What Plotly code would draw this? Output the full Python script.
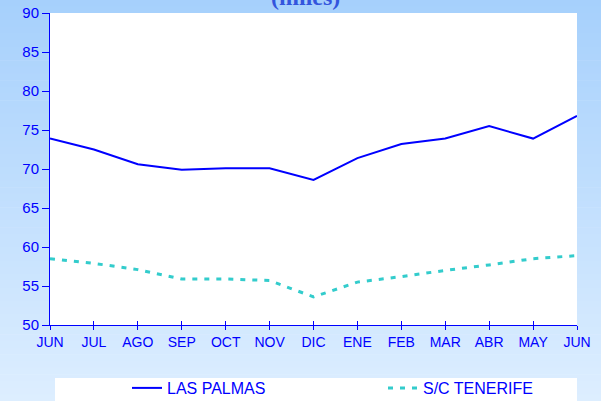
import plotly.graph_objects as go

months = ["JUN", "JUL", "AGO", "SEP", "OCT", "NOV", "DIC", "ENE", "FEB", "MAR", "ABR", "MAY", "JUN"]
las_palmas = [73.9, 72.5, 70.6, 69.9, 70.1, 70.1, 68.6, 71.4, 73.2, 73.9, 75.5, 73.9, 76.8]
tenerife = [58.5, 57.9, 57.1, 55.9, 55.9, 55.7, 53.6, 55.5, 56.2, 57.0, 57.7, 58.5, 58.9]
y_ticks = [50, 55, 60, 65, 70, 75, 80, 85, 90]

xpos = list(range(len(months)))

W, H = 601, 401
L, R, T, B = 50, 24, 13, 76
pw, ph = W - L - R, H - T - B

def px_x(p):
    return (p - L) / pw

def px_y(p):
    return 1 - (p - T) / ph

fig = go.Figure()
fig.add_trace(go.Scatter(x=xpos, y=las_palmas, mode="lines", name="LAS PALMAS",
                         line=dict(color="#0000ff", width=2), legend="legend"))
fig.add_trace(go.Scatter(x=xpos, y=tenerife, mode="lines", name="S/C TENERIFE",
                         line=dict(color="#33cccc", width=3, dash="5px,7px"), legend="legend2"))
# invisible trace on second x axis to carry the inside ticks
fig.add_trace(go.Scatter(x=xpos, y=las_palmas, xaxis="x2", mode="lines",
                         line=dict(width=0), hoverinfo="skip", showlegend=False, opacity=0))

# gradient background
shapes = []
n = 60
c0 = (166, 208, 252)
c1 = (221, 238, 255)
for i in range(n):
    t = (i + 0.5) / n
    col = tuple(round(a + (b - a) * t) for a, b in zip(c0, c1))
    y0p = H * i / n
    y1p = H * (i + 1) / n + 0.6
    shapes.append(dict(type="rect", xref="paper", yref="paper", layer="below",
                       x0=px_x(-5), x1=px_x(W + 5), y0=px_y(y1p), y1=px_y(y0p),
                       line=dict(width=0), fillcolor="rgb(%d,%d,%d)" % col))
# plot area
shapes.append(dict(type="rect", xref="paper", yref="paper", layer="below",
                   x0=0, x1=1, y0=0, y1=1, line=dict(width=0), fillcolor="white"))
# legend box
shapes.append(dict(type="rect", xref="paper", yref="paper", layer="below",
                   x0=px_x(55), x1=px_x(577), y0=px_y(H + 5), y1=px_y(378),
                   line=dict(width=0), fillcolor="white"))

legend_font = dict(family="Liberation Sans, Arial", size=16, color="#0000ff")
leg_common = dict(orientation="h", xref="container", yref="container",
                  xanchor="left", yanchor="middle", bgcolor="rgba(0,0,0,0)",
                  font=legend_font, borderwidth=0)

fig.update_layout(
    width=W, height=H,
    margin=dict(l=L, r=R, t=T, b=B, autoexpand=False),
    paper_bgcolor="rgba(0,0,0,0)",
    plot_bgcolor="rgba(0,0,0,0)",
    shapes=shapes,
    showlegend=True,
    legend=dict(x=(169 - 42) / W, y=1 - 388 / H, **leg_common),
    legend2=dict(x=(425 - 42) / W, y=1 - 388 / H, **leg_common),
    annotations=[dict(text="<b>(miles)</b>", xref="paper", yref="paper",
                      x=px_x(305), y=px_y(-3), xanchor="center", yanchor="middle",
                      showarrow=False,
                      font=dict(family="Liberation Serif, Times New Roman", size=24, color="#3355dd"))],
    xaxis=dict(range=[0, 12], tickmode="array", tickvals=xpos, ticktext=months,
               showgrid=False, zeroline=False, showline=True, linecolor="#0000ff", linewidth=1,
               ticks="outside", ticklen=4, tickcolor="#0000ff", tickwidth=1,
               tickfont=dict(family="Liberation Sans, Arial", size=14, color="#0000ff"),
               automargin=False, fixedrange=True),
    xaxis2=dict(range=[0, 12], overlaying="x", side="bottom", anchor="y",
                tickmode="array", tickvals=xpos, showticklabels=False,
                showgrid=False, zeroline=False, showline=False,
                ticks="inside", ticklen=4, tickcolor="#0000ff", tickwidth=1,
                automargin=False),
    yaxis=dict(range=[50, 90], tickmode="array", tickvals=y_ticks,
               showgrid=False, zeroline=False, showline=True, linecolor="#0000ff", linewidth=1,
               ticks="outside", ticklen=7, tickcolor="#0000ff", tickwidth=1,
               tickfont=dict(family="Liberation Sans, Arial", size=15, color="#0000ff"),
               automargin=False, fixedrange=True),
)

fig.write_html("out.html", config={"displayModeBar": False},
               post_script="document.body.style.margin='0px';document.body.style.overflow='hidden';")
